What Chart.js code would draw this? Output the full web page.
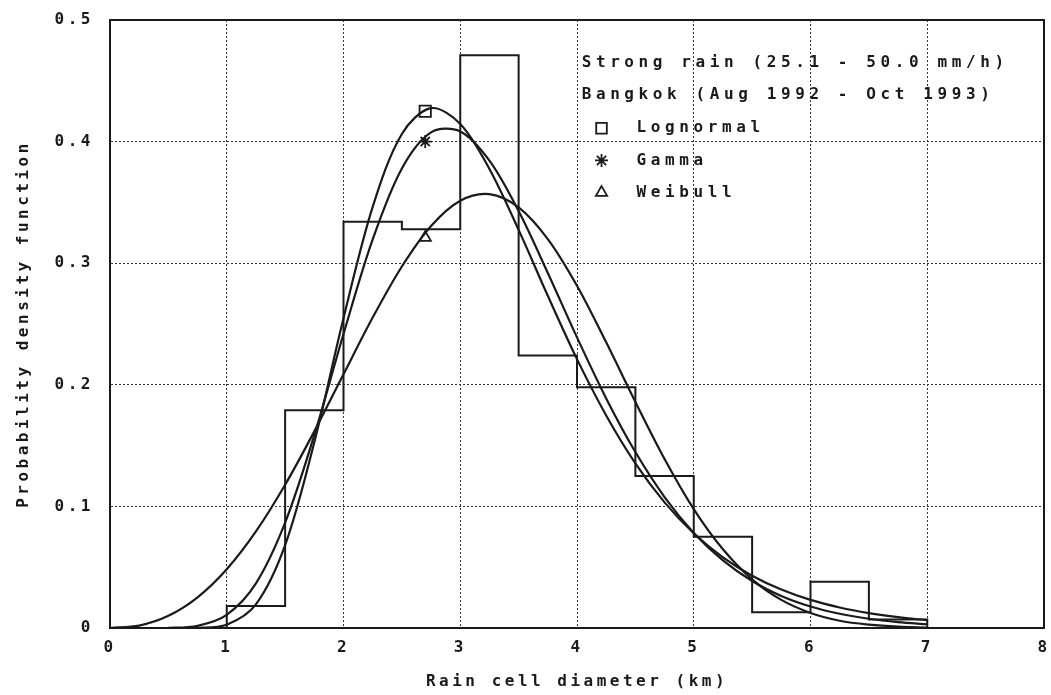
<!DOCTYPE html>
<html>
<head>
<meta charset="utf-8">
<title>Rain cell diameter PDF</title>
<script src="https://cdn.jsdelivr.net/npm/chart.js@4.4.1/dist/chart.umd.min.js"></script>
<style>
    html, body { margin: 0; padding: 0; background: #fff; }
    .chart-container { width: 1051px; height: 695px; position: relative; }
</style>
</head>
<body>
<div class="chart-container"><canvas id="pdf-chart"></canvas></div>
<script>
// observed histogram (bin start, width 0.5 km)
const binStarts = [1, 1.5, 2, 2.5, 3, 3.5, 4, 4.5, 5, 5.5, 6, 6.5];
const binWidth = 0.5;
const observedPdf = [0.018, 0.179, 0.334, 0.328, 0.471, 0.224, 0.198, 0.125, 0.075, 0.013, 0.038, 0.007];

// fitted curves, every 0.25 km
const curveX = [0, 0.25, 0.5, 0.75, 1, 1.25, 1.5, 1.75, 2, 2.25, 2.5, 2.75, 3, 3.25, 3.5, 3.75,
    4, 4.25, 4.5, 4.75, 5, 5.25, 5.5, 5.75, 6, 6.25, 6.5, 6.75, 7];
const lognormalPdf = [0, 0, 0, 0.0001, 0.0027, 0.0194, 0.0681, 0.1528, 0.2547, 0.3463, 0.4063, 0.4275,
    0.4145, 0.3775, 0.3274, 0.2732, 0.2211, 0.1748, 0.1354, 0.1033, 0.0779, 0.0581, 0.0430, 0.0316,
    0.0231, 0.0169, 0.0123, 0.0089, 0.0064];
const gammaPdf = [0, 0, 0.0001, 0.0018, 0.0108, 0.0367, 0.0866, 0.1587, 0.2418, 0.3195, 0.3779, 0.4076,
    0.4084, 0.3844, 0.3429, 0.2920, 0.2390, 0.1888, 0.1447, 0.1077, 0.0782, 0.0556, 0.0387, 0.0264,
    0.0177, 0.0117, 0.0076, 0.0049, 0.0031];
const weibullPdf = [0, 0.0020, 0.0100, 0.0252, 0.0483, 0.0794, 0.1178, 0.1617, 0.2087, 0.2553, 0.2973,
    0.3306, 0.3514, 0.3568, 0.3459, 0.3198, 0.2814, 0.2349, 0.1859, 0.1390, 0.0978, 0.0647, 0.0400,
    0.0231, 0.0124, 0.0060, 0.0028, 0.0011, 0.0004];

// symbols marking each curve
const seriesNames = ['Lognormal', 'Gamma', 'Weibull'];
const seriesSymbols = ['rect', 'star', 'triangle'];
const markerX = [2.7, 2.7, 2.7];
const markerY = [0.425, 0.400, 0.321];

const headerLines = ['Strong rain (25.1 - 50.0 mm/h)', 'Bangkok (Aug 1992 - Oct 1993)'];
const xTitle = 'Rain cell diameter (km)';
const yTitle = 'Probability density function';

const FONT = '"DejaVu Sans Mono", "Liberation Mono", monospace';
const INK = '#1a1a1a';

function histogramPoints() {
    const pts = [{ x: binStarts[0], y: 0 }];
    binStarts.forEach((b, i) => pts.push({ x: b, y: observedPdf[i] }));
    pts.push({ x: binStarts[binStarts.length - 1] + binWidth, y: observedPdf[observedPdf.length - 1] });
    pts.push({ x: binStarts[binStarts.length - 1] + binWidth, y: 0 });
    return pts;
}

function curvePoints(values) {
    return curveX.map((x, i) => ({ x: x, y: values[i] }));
}

function curveDataset(label, values) {
    return {
        label: label,
        data: curvePoints(values),
        showLine: true,
        borderColor: INK,
        borderWidth: 2.2,
        pointRadius: 0,
        tension: 0.33,
        fill: false
    };
}

// y axis (drawn first) has tighter lettering than the x axis
const spacingPlugin = {
    id: 'spacing',
    beforeLayout(chart) { chart.ctx.letterSpacing = '3.5px'; },
    beforeDraw(chart) { chart.ctx.letterSpacing = '3.5px'; },
    afterDatasetsDraw(chart) { chart.ctx.letterSpacing = '5px'; }
};

const framePlugin = {
    id: 'frame',
    afterDraw(chart) {
        const { ctx, chartArea: a, scales } = chart;
        const xs = scales.x, ys = scales.y;
        ctx.save();
        ctx.setLineDash([]);
        ctx.strokeStyle = INK;
        ctx.lineWidth = 2;
        ctx.strokeRect(a.left, a.top, a.right - a.left, a.bottom - a.top);

        // legend block inside the plot
        ctx.fillStyle = INK;
        ctx.font = 'bold 16px ' + FONT;
        ctx.letterSpacing = '4.6px';
        ctx.textBaseline = 'middle';
        ctx.textAlign = 'left';
        const textX = xs.getPixelForValue(4.04);
        ctx.fillText(headerLines[0], textX, ys.getPixelForValue(0.4645));
        ctx.fillText(headerLines[1], textX, ys.getPixelForValue(0.4385));

        const symX = xs.getPixelForValue(4.21);
        const nameX = xs.getPixelForValue(4.51);
        const rowY = [0.411, 0.3845, 0.358];
        const draw = Chart.helpers && Chart.helpers.drawPoint;
        seriesNames.forEach((name, i) => {
            const y = ys.getPixelForValue(rowY[i]);
            ctx.fillStyle = '#fff';
            ctx.strokeStyle = INK;
            ctx.lineWidth = 1.8;
            if (draw) {
                draw(ctx, { pointStyle: seriesSymbols[i], radius: i === 0 ? 7.5 : 6.5, rotation: 0, borderWidth: 1.8 }, symX, y);
            }
            ctx.fillStyle = INK;
            ctx.fillText(name, nameX, y);
        });
        ctx.restore();
    }
};

class PdfChart {
    constructor() {
        this.chart = null;
        this.initChart();
    }

    initChart() {
        const ctx = document.getElementById('pdf-chart').getContext('2d');
        const datasets = [
            {
                label: 'Observed',
                data: histogramPoints(),
                showLine: true,
                stepped: 'before',
                borderColor: INK,
                borderWidth: 2,
                pointRadius: 0,
                fill: false
            },
            curveDataset('Lognormal', lognormalPdf),
            curveDataset('Gamma', gammaPdf),
            curveDataset('Weibull', weibullPdf)
        ];
        seriesNames.forEach((name, i) => {
            datasets.push({
                label: name + ' marker',
                data: [{ x: markerX[i], y: markerY[i] }],
                showLine: false,
                pointStyle: seriesSymbols[i],
                pointRadius: i === 0 ? 8 : 6.5,
                pointBorderWidth: 1.8,
                pointBorderColor: INK,
                pointBackgroundColor: 'rgba(255,255,255,0)'
            });
        });

        const tickFont = { family: FONT, size: 16, weight: 'bold' };
        const titleFont = { family: FONT, size: 16, weight: 'bold' };

        this.chart = new Chart(ctx, {
            type: 'scatter',
            data: { datasets: datasets },
            options: {
                responsive: true,
                maintainAspectRatio: false,
                animation: false,
                layout: { autoPadding: false, padding: { left: 0, top: 20, right: 7, bottom: 0 } },
                scales: {
                    x: {
                        type: 'linear',
                        min: 0,
                        max: 8,
                        z: 1,
                        afterFit(s) {
                            s.height = 67;
                            s.paddingLeft = 0;
                            s.paddingRight = 0;
                        },
                        grid: { color: '#333', lineWidth: 1, drawTicks: false },
                        border: { display: true, color: INK, width: 2, dash: [2, 2] },
                        ticks: {
                            stepSize: 1,
                            padding: 10,
                            color: INK,
                            font: tickFont,
                            callback: (v) => String(v)
                        },
                        title: {
                            display: true,
                            text: xTitle,
                            color: INK,
                            font: titleFont,
                            padding: { top: 0, bottom: 4 }
                        }
                    },
                    y: {
                        type: 'linear',
                        min: 0,
                        max: 0.5,
                        afterFit(s) {
                            s.width = 110;
                            s.paddingTop = 0;
                            s.paddingBottom = 0;
                        },
                        grid: { color: '#333', lineWidth: 1, drawTicks: false },
                        border: { display: true, color: INK, width: 2, dash: [2, 2] },
                        ticks: {
                            stepSize: 0.1,
                            padding: 16,
                            color: INK,
                            font: tickFont,
                            callback: (v) => (v === 0 ? '0' : v.toFixed(1))
                        },
                        title: {
                            display: true,
                            text: yTitle,
                            color: INK,
                            font: titleFont,
                            padding: { top: 14, bottom: 0 }
                        }
                    }
                },
                plugins: {
                    legend: { display: false },
                    tooltip: { enabled: false }
                }
            },
            plugins: [spacingPlugin, framePlugin]
        });
    }
}

document.addEventListener('DOMContentLoaded', () => {
    window.pdfChart = new PdfChart();
});
</script>
</body>
</html>
